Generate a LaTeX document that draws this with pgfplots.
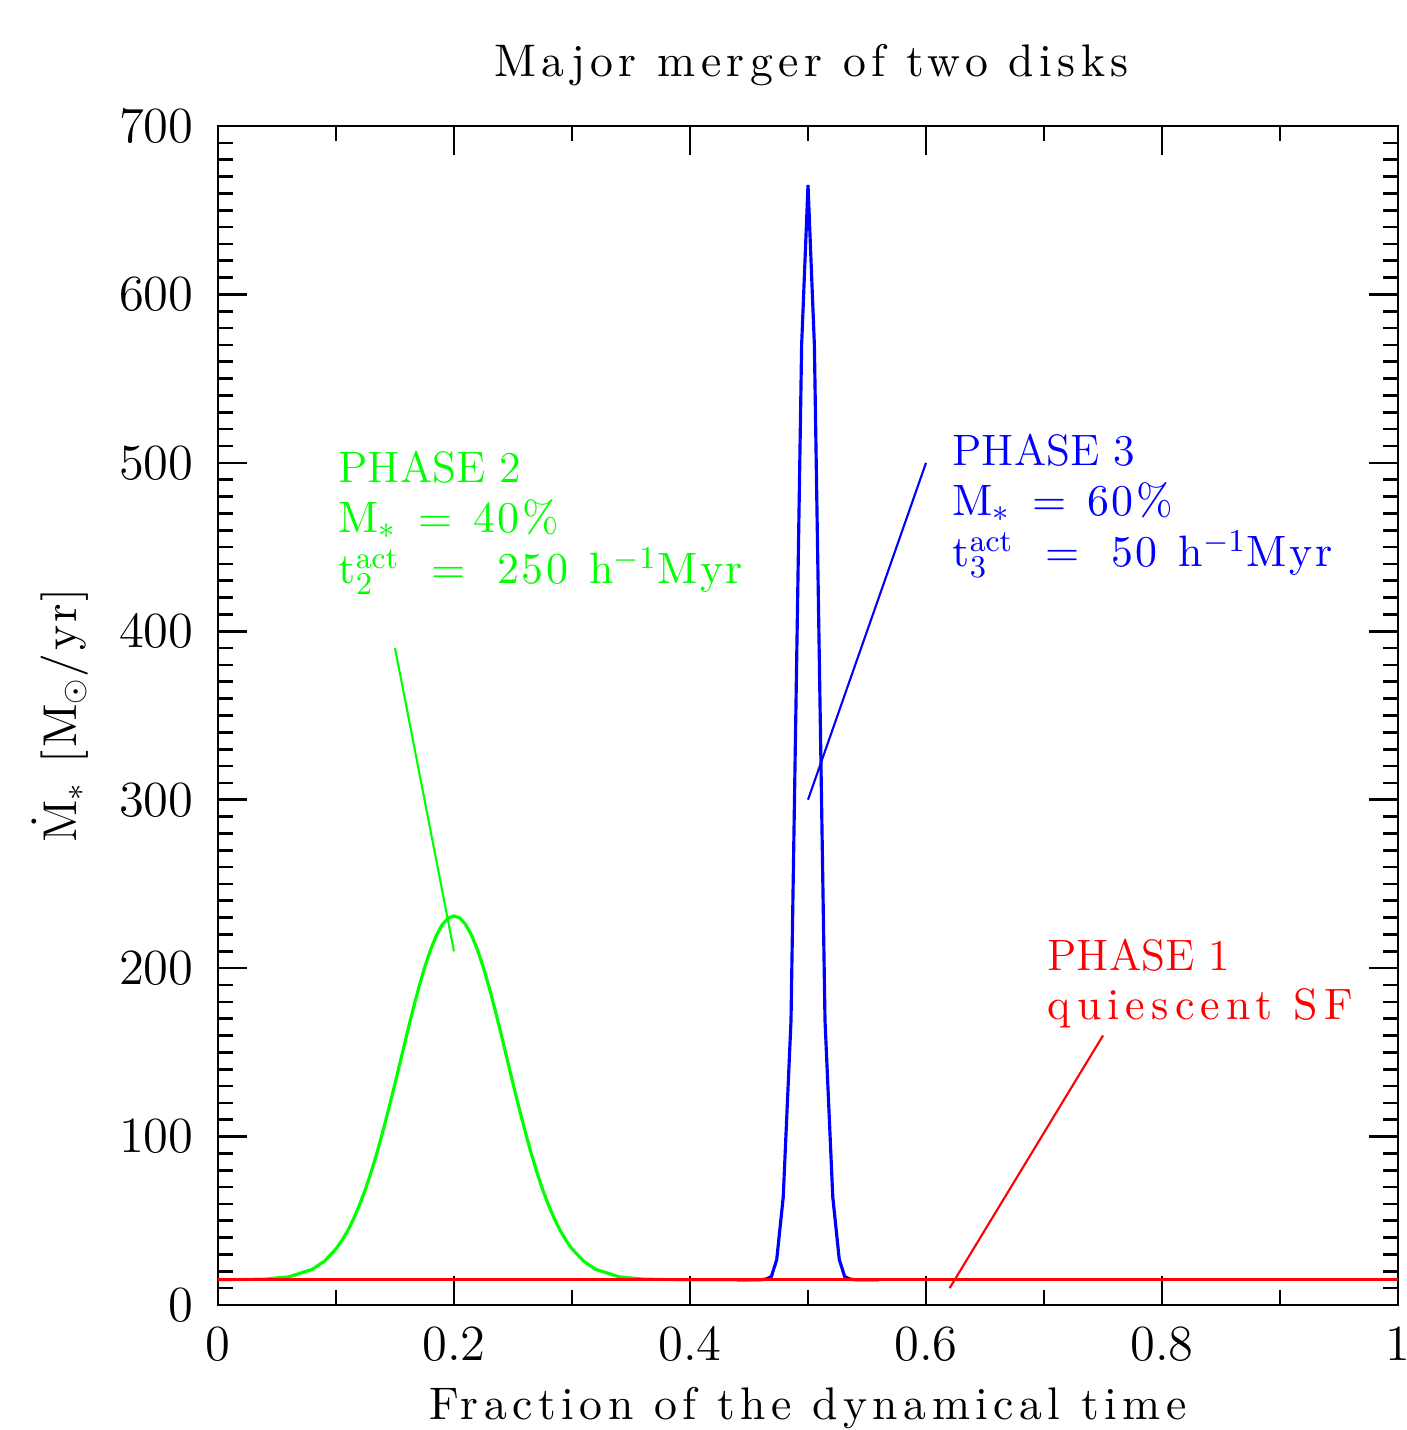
\documentclass[border=0pt]{standalone}
\usepackage{fontspec}
\usepackage{pgfplots}
\pgfplotsset{compat=1.18}
\newfontfamily\wideA{lmroman10-regular.otf}[LetterSpace=12]
\newfontfamily\wideB{lmroman10-regular.otf}[LetterSpace=6]
\newfontfamily\wideC{lmroman10-regular.otf}[LetterSpace=14]
\newcommand\fsz[2]{\fontsize{#1}{#2}\selectfont}
\definecolor{pgreen}{RGB}{0,255,0}
\definecolor{pblue}{RGB}{0,0,255}
\definecolor{pred}{RGB}{255,0,0}
\begin{document}
\begin{tikzpicture}
\useasboundingbox (-2.18cm,-1.25cm) rectangle (11.88cm,13.05cm);
\clip (-2.18cm,-1.25cm) rectangle (11.88cm,13.05cm);
\begin{axis}[
  at={(0,0)}, anchor=south west,
  width=11.8cm, height=11.79cm, scale only axis,
  xmin=0, xmax=1, ymin=0, ymax=700,
  xtick={0,0.2,0.4,0.6,0.8,1},
  minor xtick={0.1,0.3,0.5,0.7,0.9},
  ytick={0,100,200,300,400,500,600,700},
  minor y tick num=9,
  tick align=inside,
  xtick pos=both, ytick pos=both,
  major tick length=0.29cm, minor tick length=0.15cm,
  axis line style={line width=0.75pt},
  every tick/.style={black, line width=0.75pt},
  every minor tick/.style={black, line width=0.75pt},
  tick label style={font=\fsz{14}{16}},
  xticklabel style={yshift=-0.1cm},
  yticklabel style={xshift=-0.12cm},
  title={Major merger of two disks},
  title style={at={(axis description cs:0.503,1.0237)}, anchor=base, font=\wideA\fsz{13}{15}},
  xlabel={Fraction of the dynamical time},
  xlabel style={at={(axis description cs:0.5,-0.0975)}, anchor=base, font=\wideA\fsz{13}{15}},
  ylabel={$\dot{\mathrm{M}}_{*}$ [M$_\odot$/yr]},
  ylabel style={at={(axis description cs:-0.134,0.5)}, anchor=center, font=\wideB\fsz{13.5}{15}},
]
% Phase 2 (green)
\addplot[pgreen, line width=0.9pt] coordinates {
(0.00,15.0)(0.02,15.07)(0.04,15.39)(0.06,16.7)(0.08,21.2)(0.09,25.9)
(0.10,33.3)(0.105,38.3)(0.11,44.2)(0.115,51.3)(0.12,59.5)(0.125,68.8)(0.13,79.4)(0.135,91.1)(0.14,103.8)(0.145,117.4)(0.15,131.5)
(0.155,146.0)(0.16,160.6)(0.165,174.7)(0.17,188.0)(0.175,200.2)(0.18,210.7)(0.185,219.3)(0.19,225.8)(0.195,229.7)(0.20,231.0)
(0.205,229.7)(0.21,225.8)(0.215,219.3)(0.22,210.7)(0.225,200.2)(0.23,188.0)(0.235,174.7)(0.24,160.6)(0.245,146.0)(0.25,131.5)(0.255,117.4)(0.26,103.8)
(0.265,91.1)(0.27,79.4)(0.275,68.8)(0.28,59.5)(0.285,51.3)(0.29,44.2)(0.295,38.3)(0.30,33.3)(0.31,25.9)(0.32,21.2)
(0.34,16.7)(0.36,15.39)(0.38,15.07)(0.40,15.0)(0.45,15.0)};
% Phase 3 (blue)
\addplot[pblue, line width=0.9pt] coordinates {
(0.44,15)(0.46,15)(0.465,15.5)(0.469,17)(0.4735,27)(0.479,64)(0.4856,169)
(0.4946,570)(0.500,665)(0.5054,570)(0.5144,169)(0.521,64)(0.5265,27)
(0.531,17)(0.535,15.5)(0.54,15)(0.56,15)};
% Phase 1 (red)
\addplot[pred, line width=0.9pt] coordinates {(0,15)(1,15)};
% annotation pointers
\addplot[pgreen, line width=0.6pt] coordinates {(0.15,390)(0.2,210)};
\addplot[pblue, line width=0.6pt] coordinates {(0.6,500)(0.5,300)};
\addplot[pred, line width=0.6pt] coordinates {(0.75,160)(0.62,10)};
% annotation texts
\node[anchor=north west, inner sep=0pt, text=pgreen, align=left, font=\fsz{12.5}{14.2}]
  at (axis cs:0.1017,507.6)
  {PHASE 2\\{\wideB M$_*$\hspace{6pt}=\hspace{6pt}40\%}\\[0.5pt]{\wideB t$^{\mathrm{act}}_{2}$\hspace{9pt}=\hspace{9pt}250\hspace{6pt}h$^{-1}$Myr}};
\node[anchor=north west, inner sep=0pt, text=pblue, align=left, font=\fsz{12.5}{14.2}]
  at (axis cs:0.622,517.7)
  {PHASE 3\\{\wideB M$_*$\hspace{6pt}=\hspace{6pt}60\%}\\[0.5pt]{\wideB t$^{\mathrm{act}}_{3}$\hspace{9pt}=\hspace{9pt}50\hspace{6pt}h$^{-1}$Myr}};
\node[anchor=north west, inner sep=0pt, text=pred, align=left, font=\fsz{12.5}{14.2}]
  at (axis cs:0.7025,217.9)
  {PHASE 1\\{\wideC quiescent SF}};
\end{axis}
\end{tikzpicture}
\end{document}
